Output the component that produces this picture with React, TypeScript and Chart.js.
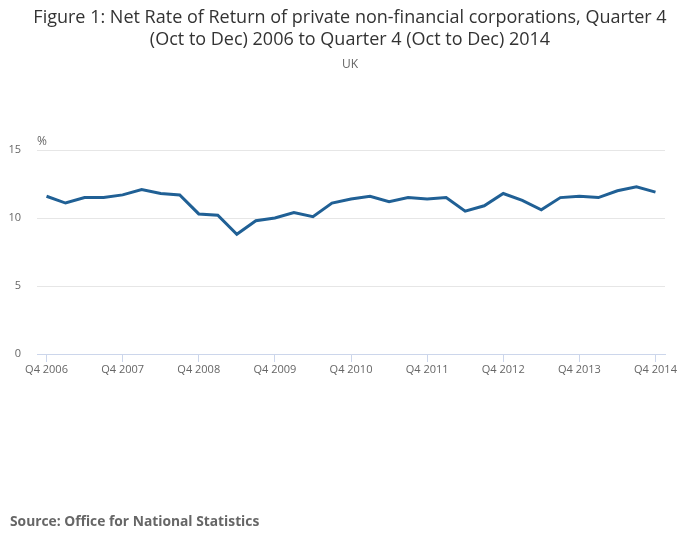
import { useRef, useEffect } from "react";
import { Chart, registerables } from "chart.js";

Chart.register(...registerables);

const quarters: string[] = [];
for (let y = 2006; y <= 2014; y++) {
  if (y === 2006) {
    quarters.push("Q4 2006");
  } else {
    quarters.push(`Q1 ${y}`, `Q2 ${y}`, `Q3 ${y}`, `Q4 ${y}`);
  }
}

const netRateOfReturn = [
  11.6, 11.1, 11.5, 11.5, 11.7, 12.1, 11.8, 11.7, 10.3, 10.2, 8.8, 9.8, 10.0,
  10.4, 10.1, 11.1, 11.4, 11.6, 11.2, 11.5, 11.4, 11.5, 10.5, 10.9, 11.8, 11.3,
  10.6, 11.5, 11.6, 11.5, 12.0, 12.3, 11.9,
];

const yTicks = [0, 5, 10, 15];

const titleLines = [
  "Figure 1: Net Rate of Return of private non-financial corporations, Quarter 4",
  "(Oct to Dec) 2006 to Quarter 4 (Oct to Dec) 2014",
];
const subtitle = "UK";
const unitLabel = "%";
const sourceText = "Source: Office for National Statistics";

const FONT = "'Open Sans', sans-serif";

// draws the heading, unit and source text around the plot
const textPlugin = {
  id: "texts",
  afterDraw(chart: Chart) {
    const ctx = chart.ctx;
    ctx.save();
    ctx.textBaseline = "middle";
    ctx.textAlign = "center";
    ctx.fillStyle = "#333333";
    ctx.font = `18px ${FONT}`;
    ctx.fillText(titleLines[0], 350, 18);
    ctx.fillText(titleLines[1], 350, 40);
    ctx.fillStyle = "#666666";
    ctx.font = `12px ${FONT}`;
    ctx.fillText(subtitle, 350, 65);
    ctx.textAlign = "left";
    ctx.fillText(unitLabel, 37, 142);
    ctx.font = `bold 13.8px ${FONT}`;
    ctx.fillText(sourceText, 10, 522);
    ctx.restore();
  },
};

const App = () => {
  const chartRef = useRef<HTMLCanvasElement | null>(null);

  useEffect(() => {
    const ctx = chartRef.current?.getContext("2d");
    if (!ctx) return;

    const myChart = new Chart(ctx, {
      type: "line",
      data: {
        labels: quarters,
        datasets: [
          {
            label: "Net rate of return",
            data: netRateOfReturn,
            borderColor: "#206095",
            borderWidth: 3,
            pointRadius: 0,
            tension: 0,
            fill: false,
          },
        ],
      },
      options: {
        responsive: false,
        animation: false,
        layout: {
          padding: { top: 150, left: 8, right: 35, bottom: 165 },
        },
        plugins: {
          legend: { display: false },
          tooltip: { enabled: false },
        },
        scales: {
          x: {
            offset: true,
            grid: {
              offset: false,
              drawOnChartArea: false,
              drawTicks: true,
              tickLength: 8,
              tickColor: (c: any) =>
                c.index % 4 === 0 ? "#ccd6eb" : "rgba(0,0,0,0)",
            },
            border: { color: "#ccd6eb", width: 1 },
            ticks: {
              autoSkip: false,
              maxRotation: 0,
              padding: 1,
              color: "#666666",
              font: { family: FONT, size: 11 },
              callback: (_v: any, i: number) => (i % 4 === 0 ? quarters[i] : ""),
            },
            afterFit: (scale: any) => {
              scale.height = 30;
            },
          },
          y: {
            min: 0,
            max: 15,
            afterBuildTicks: (scale: any) => {
              scale.ticks = yTicks.map((v) => ({ value: v }));
            },
            grid: {
              color: "#e6e6e6",
              drawTicks: false,
            },
            border: { display: false },
            ticks: {
              padding: 16,
              color: "#666666",
              font: { family: FONT, size: 11 },
            },
            afterFit: (scale: any) => {
              scale.width = 29;
            },
          },
        },
      },
      plugins: [textPlugin],
    });

    return () => {
      myChart.destroy();
    };
  }, []);

  return (
    <div style={{ position: "fixed", left: 0, top: 0, width: 700, height: 549, background: "#fff" }}>
      <canvas ref={chartRef} width={700} height={549}></canvas>
    </div>
  );
};

export default App;
